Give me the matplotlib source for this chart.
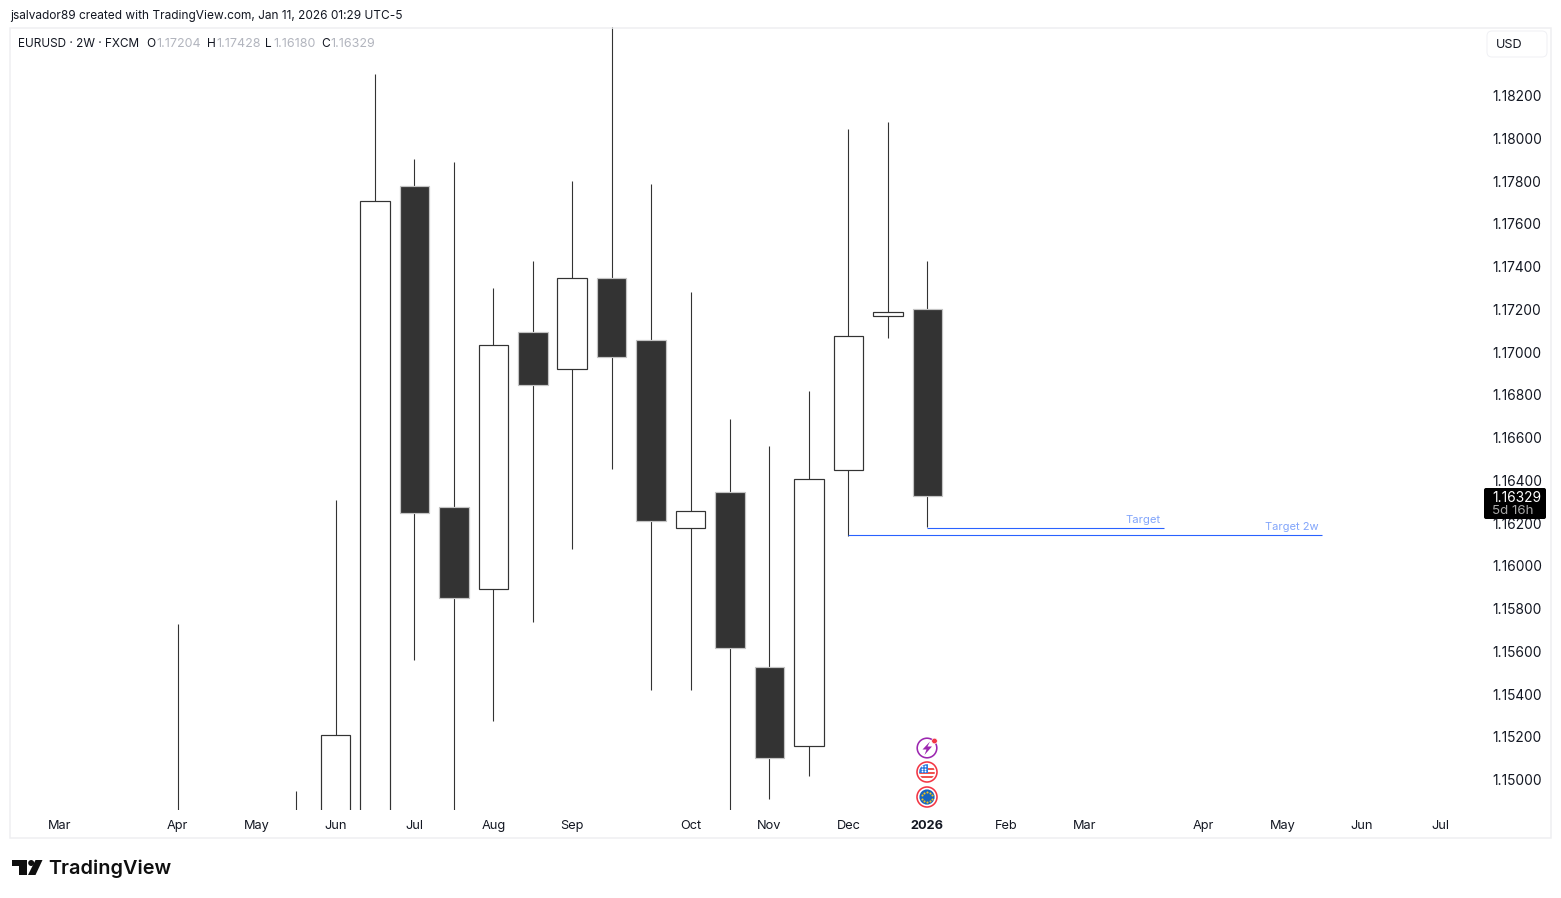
import matplotlib
matplotlib.use("Agg")
import matplotlib.pyplot as plt
from matplotlib.patches import Circle, FancyBboxPatch, Polygon, Rectangle

plt.rcParams["font.family"] = ["Inter", "DejaVu Sans"]

W, H = 1561, 898
PX = 0.72  # one pixel in points at dpi 100
BAR_PX = 39.45  # pixels per 2W candle
X0_PX = 59.35  # pixel of candle index 0

# candle data (values off the bottom/top are estimates)
candle_idx = [3, 6, 7, 8, 9, 10, 11, 12, 13, 14, 15, 16, 17, 18, 19, 20, 21, 22]
opens = [1.14700, 1.14700, 1.14800, 1.14650, 1.17777, 1.16275, 1.15891, 1.17094, 1.16920,
         1.17346, 1.17056, 1.16177, 1.16345, 1.15526, 1.15157, 1.16448, 1.17168, 1.17204]
highs = [1.15727, 1.14946, 1.16308, 1.18301, 1.17903, 1.17889, 1.17299, 1.17426, 1.17800,
         1.18700, 1.17786, 1.17281, 1.16687, 1.16560, 1.16818, 1.18043, 1.18076, 1.17428]
lows = [1.14500, 1.14500, 1.14600, 1.14450, 1.15559, 1.14700, 1.15274, 1.15737, 1.16078,
        1.16453, 1.15419, 1.15419, 1.14700, 1.14909, 1.15016, 1.16139, 1.17065, 1.16180]
closes = [1.14750, 1.14750, 1.15208, 1.17706, 1.16247, 1.15849, 1.17033, 1.16846, 1.17346,
          1.16977, 1.16209, 1.16256, 1.15615, 1.15101, 1.16406, 1.17075, 1.17187, 1.16329]

price_ticks = [1.15000, 1.15200, 1.15400, 1.15600, 1.15800, 1.16000, 1.16200, 1.16400, 1.16600,
               1.16800, 1.17000, 1.17200, 1.17400, 1.17600, 1.17800, 1.18000, 1.18200]
month_idx = [0, 3, 5, 7, 9, 11, 13, 16, 18, 20, 22, 24, 26, 29, 31, 33, 35]
month_labels = ["Mar", "Apr", "May", "Jun", "Jul", "Aug", "Sep", "Oct", "Nov", "Dec", "2026",
                "Feb", "Mar", "Apr", "May", "Jun", "Jul"]

target_x = [22, 28]
target_y = [1.16177, 1.16177]
target2w_x = [20, 32]
target2w_y = [1.16145, 1.16145]

DARK = "#333333"
BLUE = "#2962ff"
TEXT = "#131722"
GREY = "#b2b5be"

fig = plt.figure(figsize=(W / 100, H / 100), dpi=100, facecolor="white")

# main pane, pixel box 11..1481 x 27..810
ax = fig.add_axes([11 / W, 1 - 810 / H, 1470 / W, 783 / H])
ax.set_xlim((11 - X0_PX) / BAR_PX, (1481 - X0_PX) / BAR_PX)
ax.set_ylim(1.14858, 1.18521)
for s in ax.spines.values():
    s.set_visible(False)

for i, o, h, l, c in zip(candle_idx, opens, highs, lows, closes):
    ax.plot([i, i], [l, h], color=DARK, lw=PX * 1.1, solid_capstyle="butt", zorder=2)
    up = c >= o
    ax.bar(i, abs(c - o), bottom=min(o, c), width=29.5 / BAR_PX,
           facecolor="white" if up else DARK,
           edgecolor=DARK if up else "#c4c4c4", linewidth=PX * 1.2, zorder=3)

ax.plot(target_x, target_y, color=BLUE, lw=PX * 1.1, zorder=4, solid_capstyle="butt", snap=True)
ax.plot(target2w_x, target2w_y, color=BLUE, lw=PX * 1.1, zorder=4, solid_capstyle="butt", snap=True)
ax.annotate("Target", (target_x[1], target_y[1]), xytext=(-2.6, 2.4), textcoords="offset points",
            ha="right", va="bottom", color="#82a5fb", fontsize=8.1)
ax.annotate("Target 2w", (target2w_x[1], target2w_y[1]), xytext=(-2.6, 2.2), textcoords="offset points",
            ha="right", va="bottom", color="#82a5fb", fontsize=8.0)

ax.yaxis.tick_right()
ax.set_yticks(price_ticks, [f"{p:.5f}" for p in price_ticks])
ax.set_xticks(month_idx, month_labels)
ax.tick_params(axis="y", length=0, pad=8.2, labelsize=9.9, labelcolor=TEXT)
ax.tick_params(axis="x", length=0, pad=7.3, labelsize=9.2, labelcolor=TEXT)
for lab in ax.get_xticklabels():
    if lab.get_text() == "2026":
        lab.set_fontweight("bold")

# overlay in pixel coordinates for the TradingView furniture
ov = fig.add_axes([0, 0, 1, 1], zorder=5)
ov.set_xlim(0, W)
ov.set_ylim(H, 0)
ov.axis("off")
ov.patch.set_alpha(0)

ov.add_patch(Rectangle((10.5, 27.5), 1541, 810, fill=False, edgecolor="#eeeff1", lw=PX * 1.5))

ov.text(10, 16, "jsalvador89 created with TradingView.com, Jan 11, 2026 01:29 UTC-5",
        fontsize=8.55, color=TEXT, va="center")
ov.text(18, 43.7, "EURUSD · 2W · FXCM", fontsize=8.5, color=TEXT, va="center")
for lx, letter, vx, val in [(146.5, "O", 156, "1.17204"), (207, "H", 216, "1.17428"),
                            (265, "L", 273, "1.16180"), (321, "C", 330, "1.16329")]:
    ov.text(lx, 43.7, letter, fontsize=8.6, color=TEXT, va="center")
    ov.text(vx, 43.7, val, fontsize=9.05, color=GREY, va="center")

# USD button
ov.add_patch(FancyBboxPatch((1490, 34), 54, 20, boxstyle="round,pad=3,rounding_size=5",
                            facecolor="white", edgecolor="#f0f1f4", lw=PX))
ov.text(1496, 44.5, "USD", fontsize=9.05, color=TEXT, va="center")

# last price tag
ov.add_patch(FancyBboxPatch((1485, 489), 60, 29, boxstyle="round,pad=1,rounding_size=2",
                            facecolor="black", edgecolor="black", lw=0))
ov.text(1492.5, 497.5, "1.16329", fontsize=9.9, color="white", va="center")
ov.text(1492.5, 511.5, "5d 16h", fontsize=9.6, color="#a8a8a8", va="center")

# event icons under the last candle
ov.add_patch(Circle((927, 748), 9.8, fill=False, edgecolor="#9c27b0", lw=PX * 1.6))
ov.add_patch(Polygon([(930, 741.5), (922.5, 749.5), (926.5, 749.5), (924.5, 755), (932, 746.5), (927.5, 746.5)],
                     closed=True, facecolor="#9c27b0", edgecolor="none"))
ov.add_patch(Circle((934.5, 741), 2.8, facecolor="#f23645", edgecolor="white", lw=PX * 0.6))

ov.add_patch(Circle((927, 772), 10, facecolor="white", edgecolor="#f23645", lw=PX * 1.6))
us_clip = Circle((927, 772), 7.8, transform=ov.transData)
for sy in [768, 772, 776]:
    stripe = Rectangle((918, sy), 18, 2, facecolor="#ef5350", edgecolor="none")
    ov.add_patch(stripe)
    stripe.set_clip_path(us_clip)
canton = Rectangle((918, 763), 10, 9.5, facecolor="#2f7be0", edgecolor="none")
ov.add_patch(canton)
canton.set_clip_path(us_clip)
ov.scatter([922, 925, 922, 925, 922, 925], [766, 766, 768.5, 768.5, 771, 771], s=1.6,
           color="white", linewidths=0, zorder=6)

ov.add_patch(Circle((927, 797), 10, facecolor="white", edgecolor="#f23645", lw=PX * 1.6))
ov.add_patch(Circle((927, 797), 7.6, facecolor="#1565c0", edgecolor="none"))
star_x = [927, 930, 932, 932, 930, 927, 924, 922, 922, 924]
star_y = [792, 793, 795, 799, 801, 802, 801, 799, 795, 793]
ov.scatter(star_x, star_y, s=2.2, color="#f5c518", linewidths=0, zorder=6)

# logo
ov.add_patch(Polygon([(12, 860), (27, 860), (27, 875), (19, 875), (19, 866), (12, 866)],
                     closed=True, facecolor="#0f0f0f", edgecolor="none"))
ov.add_patch(Circle((31.2, 863), 3, facecolor="#0f0f0f", edgecolor="none"))
ov.add_patch(Polygon([(35.5, 860), (42.5, 860), (35.5, 875), (28, 875)],
                     closed=True, facecolor="#0f0f0f", edgecolor="none"))
ov.text(48, 868.5, "TradingView", fontsize=14.3, fontweight="semibold", color="#0f0f0f", va="center")

fig.savefig("out.png", dpi=100, facecolor="white")
